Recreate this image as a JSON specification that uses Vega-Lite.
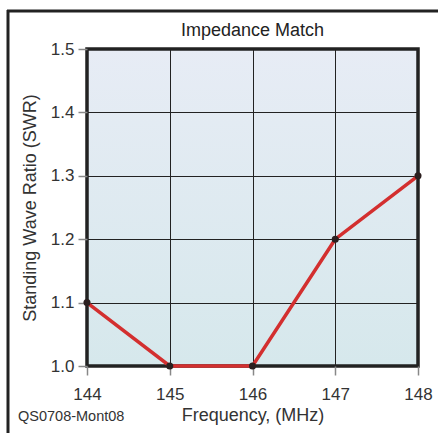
{
  "$schema": "https://vega.github.io/schema/vega-lite/v6.json",
  "width": 331,
  "height": 317,
  "autosize": "none",
  "padding": {"left": 87, "top": 49, "right": 20, "bottom": 67},
  "background": "white",
  "title": {"text": "Impedance Match", "fontSize": 18, "fontWeight": "normal", "font": "Liberation Sans", "color": "#222", "offset": 10, "dy": 41},
  "config": {
    "font": "Liberation Sans",
    "view": {
      "stroke": "#222",
      "strokeWidth": 3.5,
      "fill": {"gradient": "linear", "x1": 0, "y1": 0, "x2": 0, "y2": 1, "stops": [{"offset": 0, "color": "#e7ecf5"}, {"offset": 1, "color": "#d6e8ec"}]}
    },
    "axis": {
      "labelFontSize": 17, "labelColor": "#333", "titleFontSize": 18, "titleFontWeight": "normal", "titleColor": "#333",
      "gridColor": "#222", "gridOpacity": 1, "gridWidth": 1, "tickColor": "#888", "tickSize": 9, "tickWidth": 1.5, "domain": false,
      "labelFlush": false, "labelOverlap": false
    }
  },
  "datasets": {
    "swr": [
      {"freq": 144, "swr": 1.1},
      {"freq": 145, "swr": 1.0},
      {"freq": 146, "swr": 1.0},
      {"freq": 147, "swr": 1.2},
      {"freq": 148, "swr": 1.3}
    ],
    "note": [{"freq": 144, "swr": 1.0, "swr2": 1.5, "freq2": 148, "label": "QS0708-Mont08"}]
  },
  "layer": [
    {"data": {"name": "swr"},
      "mark": {"type": "line", "color": "#d32f2f", "strokeWidth": 3.5},
      "encoding": {
        "x": {"field": "freq", "type": "quantitative", "scale": {"domain": [144, 148], "nice": false, "zero": false},
          "axis": {"values": [144, 145, 146, 147, 148], "format": "d", "title": "Frequency, (MHz)", "labelPadding": 11, "titlePadding": 4}},
        "y": {"field": "swr", "type": "quantitative", "scale": {"domain": [1.0, 1.5], "nice": false, "zero": false},
          "axis": {"values": [1.0, 1.1, 1.2, 1.3, 1.4, 1.5], "format": ".1f", "title": "Standing Wave Ratio (SWR)", "labelPadding": 4, "titlePadding": 11}}
      }},
    {"data": {"name": "swr"},
      "mark": {"type": "point", "filled": true, "color": "#2b1f1f", "size": 50, "opacity": 1},
      "encoding": {"x": {"field": "freq", "type": "quantitative"}, "y": {"field": "swr", "type": "quantitative"}}},
    {"data": {"name": "note"},
      "mark": {"type": "text", "align": "left", "baseline": "middle", "dx": -69, "dy": 51, "fontSize": 14.5, "fontWeight": "normal", "color": "#333"},
      "encoding": {"x": {"field": "freq", "type": "quantitative"}, "y": {"field": "swr", "type": "quantitative"}, "text": {"field": "label"}}},
    {"data": {"name": "note"},
      "mark": {"type": "rule", "color": "#222", "strokeWidth": 3, "xOffset": -79, "yOffset": 70, "y2Offset": -39},
      "encoding": {"x": {"field": "freq", "type": "quantitative"}, "y": {"field": "swr", "type": "quantitative"}, "y2": {"field": "swr2"}}},
    {"data": {"name": "note"},
      "mark": {"type": "rule", "color": "#222", "strokeWidth": 3, "xOffset": -80, "x2Offset": 22, "yOffset": -38},
      "encoding": {"x": {"field": "freq", "type": "quantitative"}, "x2": {"field": "freq2"}, "y": {"field": "swr2", "type": "quantitative"}}}
  ]
}
